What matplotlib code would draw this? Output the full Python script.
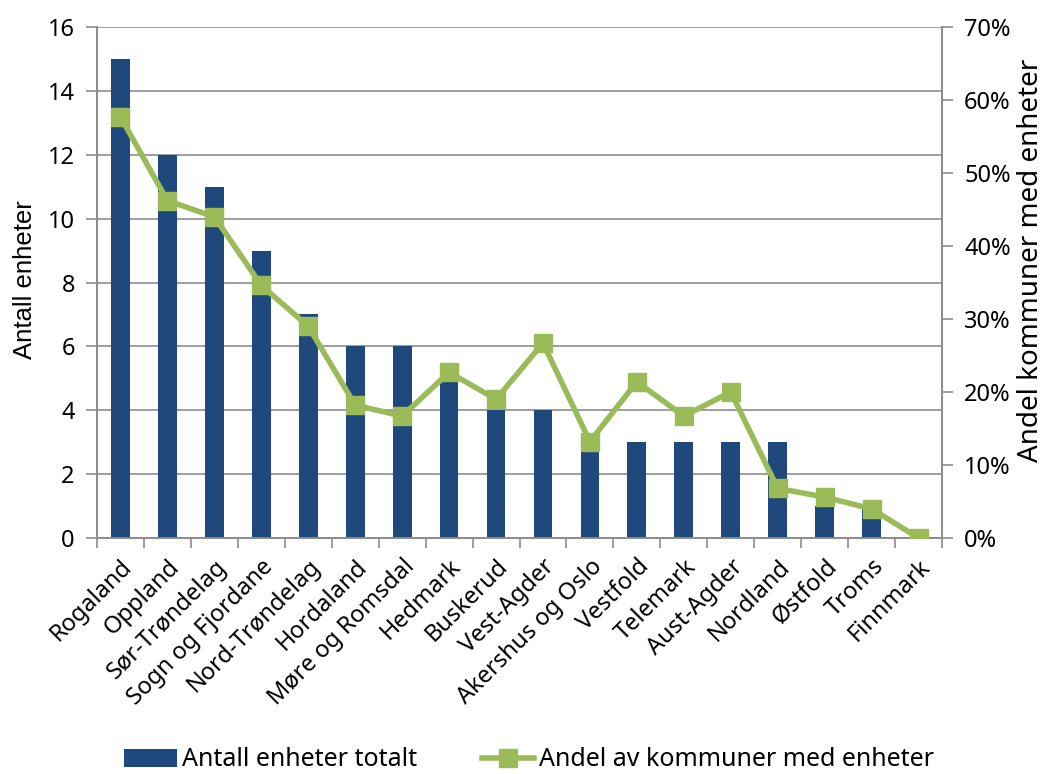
import matplotlib
matplotlib.use("Agg")
import matplotlib.pyplot as plt
import numpy as np
from matplotlib.ticker import FuncFormatter

fylker = ["Rogaland", "Oppland", "Sør-Trøndelag", "Sogn og Fjordane", "Nord-Trøndelag",
          "Hordaland", "Møre og Romsdal", "Hedmark", "Buskerud", "Vest-Agder",
          "Akershus og Oslo", "Vestfold", "Telemark", "Aust-Agder", "Nordland",
          "Østfold", "Troms", "Finnmark"]
antall_enheter = [15, 12, 11, 9, 7, 6, 6, 5, 4, 4, 3, 3, 3, 3, 3, 1, 1, 0]
andel_kommuner = [57.7, 46.2, 44.0, 34.6, 29.0, 18.2, 16.7, 22.7, 19.0, 26.7,
                  13.2, 21.4, 16.7, 20.0, 6.8, 5.6, 4.0, 0.0]

bar_color = "#1F497D"
line_color = "#9BBB59"
grid_color = "#8C8C8C"
fs = 17

plt.rcParams['font.family'] = ['Noto Sans', 'DejaVu Sans']

W, H = 1046, 774
fig = plt.figure(figsize=(W / 100, H / 100), dpi=100)
ax = fig.add_axes([97 / W, 1 - 538 / H, (942 - 97) / W, (538 - 27) / H])
ax2 = ax.twinx()

x = np.arange(len(fylker))
ax.bar(x, antall_enheter, width=0.4, color=bar_color, zorder=2, label="Antall enheter totalt")
ax.set_xlim(-0.5, len(fylker) - 0.5)
ax.set_ylim(0, 16)
ax.set_yticks(range(0, 17, 2))
ax.yaxis.grid(True, color=grid_color, linewidth=1.2, zorder=0)
ax.set_axisbelow(True)

ax2.plot(x, andel_kommuner, color=line_color, linewidth=4, marker="s", markersize=13,
         label="Andel av kommuner med enheter", zorder=3)
ax2.set_ylim(0, 70)
ax2.set_yticks(range(0, 71, 10))
ax2.yaxis.set_major_formatter(FuncFormatter(lambda v, p: f"{int(v)}%"))

for a in (ax, ax2):
    a.spines["top"].set_visible(False)
    for s in ("left", "right", "bottom"):
        a.spines[s].set_color(grid_color)
        a.spines[s].set_linewidth(1.2)
    a.tick_params(axis="y", length=8, color=grid_color, width=1.2, labelsize=fs, pad=8)

ax.set_xticks(np.arange(-0.5, len(fylker), 1), minor=True)
ax.set_xticks(x)
ax.set_xticklabels(fylker, rotation=45, ha="right", rotation_mode="anchor", fontsize=fs)
ax.tick_params(axis="x", which="major", length=0, pad=12)
ax.tick_params(axis="x", which="minor", length=7, color=grid_color, width=1.2)

# axis titles placed like in the original
fig.text(25 / W, 1 - 280 / H, "Antall enheter", rotation=90, ha="center", va="center",
         fontsize=18.5, family="Liberation Sans")
fig.text(1031 / W, 1 - 260 / H, "Andel kommuner med enheter", rotation=90, ha="center",
         va="center", fontsize=20)

h1, l1 = ax.get_legend_handles_labels()
h2, l2 = ax2.get_legend_handles_labels()
fig.legend(h1 + h2, l1 + l2, loc="center", bbox_to_anchor=(0.506, 1 - 760 / H), ncol=2,
           frameon=False, fontsize=18, handlelength=2.1, handletextpad=0.2,
           columnspacing=2.6, borderaxespad=0, borderpad=0)

fig.savefig("out.png", dpi=100)
